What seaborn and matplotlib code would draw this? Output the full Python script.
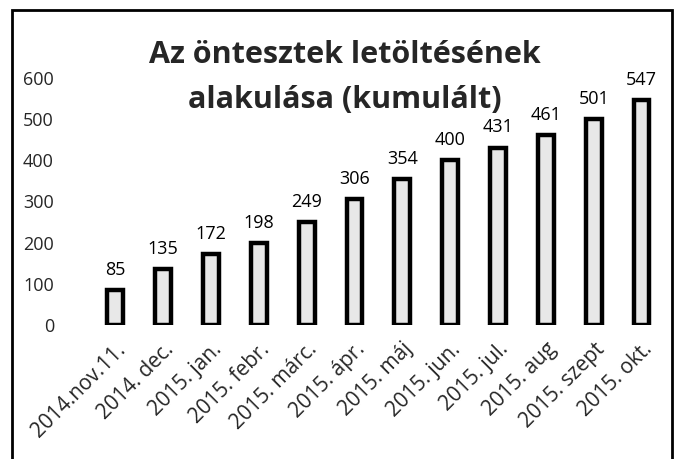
import matplotlib
matplotlib.use('Agg')
import matplotlib.pyplot as plt
import seaborn as sns
import pandas as pd
from matplotlib.patches import Rectangle

# adatok
honapok = ['2014.nov.11.', '2014. dec.', '2015. jan.', '2015. febr.', '2015. márc.',
           '2015. ápr.', '2015. máj', '2015. jun.', '2015. jul.', '2015. aug',
           '2015. szept', '2015. okt.']
letoltesek = [85, 135, 172, 198, 249, 306, 354, 400, 431, 461, 501, 547]
y_ticks = [0, 100, 200, 300, 400, 500, 600]

df = pd.DataFrame({'honap': honapok, 'db': letoltesek})

sns.set_style('white')
plt.rcParams['font.family'] = ['Open Sans', 'DejaVu Sans']

fig = plt.figure(figsize=(6.77, 4.59), dpi=100)
ax = fig.add_axes([0.135, 1 - 325 / 459, 0.848, (325 - 78) / 459])

sns.barplot(x='honap', y='db', data=df, ax=ax, width=0.33,
            color='#e8e8e8', edgecolor='black', linewidth=3.2, saturation=1)

ax.bar_label(ax.containers[0], fontsize=13, padding=8, color='black')

ax.set_ylim(0, 600)
ax.set_xlim(-0.5, 11.5)
ax.set_yticks(y_ticks)
ax.set_yticklabels([str(v) for v in y_ticks], fontsize=13)
ax.set_xticks(range(len(honapok)))
ax.set_xticklabels(honapok, rotation=45, ha='right', rotation_mode='anchor', fontsize=15)
ax.tick_params(axis='y', length=0, pad=27)
ax.tick_params(axis='x', length=0, pad=10)
ax.set_xlabel('')
ax.set_ylabel('')
for s in ax.spines.values():
    s.set_visible(False)
ax.patch.set_alpha(0)

# cím
fig.text(0.51, 1 - 55 / 459, 'Az öntesztek letöltésének', ha='center', va='center',
         fontsize=22, fontweight='bold')
fig.text(0.51, 1 - 100 / 459, 'alakulása (kumulált)', ha='center', va='center',
         fontsize=22, fontweight='bold')

# keret
fig.patches.append(Rectangle((12 / 677, -0.05), 660 / 677, 1.05 - 10 / 459,
                             transform=fig.transFigure, fill=False,
                             edgecolor='black', linewidth=2))

plt.savefig('out.png', dpi=100)
